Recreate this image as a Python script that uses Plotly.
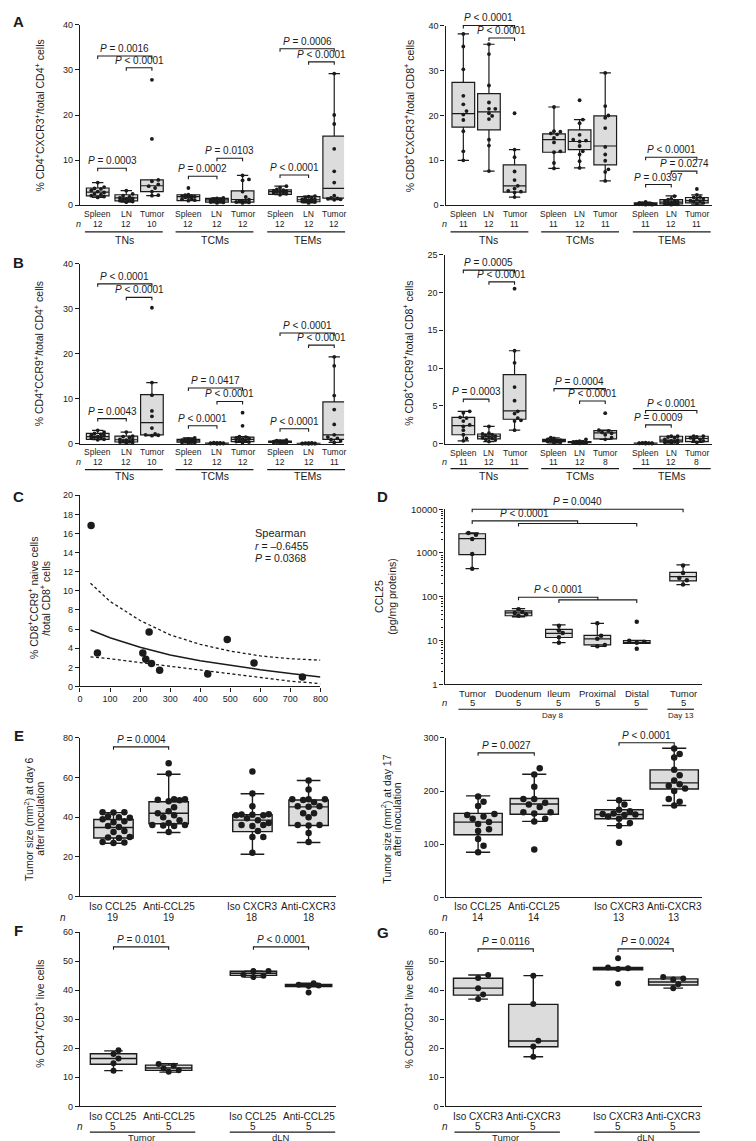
import math
import plotly.graph_objects as go

# ============================ DATA ============================
SITES = ["Spleen", "LN", "Tumor"]
SUBSETS = ["TNs", "TCMs", "TEMs"]

# ---- A left: % CD4+CXCR3+/total CD4+ ----
A4_N = [12, 12, 10, 12, 12, 12, 12, 12, 12]
A4_PTS = [
    [5.0, 4.0, 3.7, 3.6, 3.3, 3.0, 2.8, 2.5, 2.3, 2.1, 1.9, 1.7],
    [3.2, 2.5, 2.1, 1.8, 1.6, 1.5, 1.4, 1.3, 1.1, 1.0, 0.8, 0.65],
    [27.8, 14.7, 5.6, 5.3, 4.6, 4.2, 3.8, 3.0, 2.2, 2.1],
    [3.8, 2.3, 2.2, 2.0, 2.0, 1.9, 1.8, 1.7, 1.5, 1.3, 1.1, 1.0],
    [1.6, 1.5, 1.4, 1.3, 1.2, 1.1, 1.0, 0.9, 0.8, 0.7, 0.6, 0.5],
    [6.6, 5.7, 5.5, 3.0, 1.8, 1.2, 1.0, 0.9, 0.8, 0.7, 0.6, 0.5],
    [4.2, 3.9, 3.5, 3.3, 3.2, 3.1, 3.0, 2.9, 2.8, 2.7, 2.5, 2.3],
    [2.0, 1.9, 1.7, 1.5, 1.3, 1.2, 1.1, 1.0, 0.9, 0.8, 0.7, 0.5],
    [29.2, 20.0, 18.0, 12.5, 7.5, 5.0, 2.1, 1.6, 1.5, 1.4, 1.3, 1.2],
]
A4_BOX = [  # q1, median, q3, lower whisker, upper whisker
    [2.05, 2.9, 3.8, 1.7, 5.0], [0.95, 1.6, 2.3, 0.65, 3.2], [3.0, 4.3, 5.6, 2.1, 5.6],
    [1.0, 1.9, 2.3, 1.0, 2.3], [0.65, 1.15, 1.5, 0.5, 1.6], [0.65, 1.25, 3.15, 0.5, 6.6],
    [2.4, 3.0, 3.4, 2.3, 4.2], [0.75, 1.2, 1.9, 0.5, 2.0], [1.55, 3.7, 15.3, 1.2, 29.2],
]
A4_P = [(0, 1, 8.2, "= 0.0003"), (0, 2, 33.1, "= 0.0016"), (1, 2, 30.5, "< 0.0001"),
        (3, 4, 6.4, "= 0.0002"), (4, 5, 10.4, "= 0.0103"),
        (6, 7, 6.7, "< 0.0001"), (6, 8, 34.7, "= 0.0006"), (7, 8, 31.8, "< 0.0001")]

# ---- A right: % CD8+CXCR3+/total CD8+ ----
A8_N = [11, 12, 11, 11, 12, 11, 11, 12, 11]
A8_PTS = [
    [38.2, 35.4, 30.3, 24.4, 22.5, 21.0, 20.2, 19.0, 16.5, 12.0, 10.0],
    [35.9, 33.7, 26.7, 22.9, 21.5, 21.5, 20.5, 19.9, 19.2, 14.6, 13.3, 7.6],
    [20.5, 12.4, 10.7, 7.5, 5.6, 4.3, 3.7, 3.2, 3.0, 2.8, 1.8],
    [21.9, 16.5, 16.4, 16.0, 15.8, 15.0, 14.0, 12.0, 11.8, 9.4, 8.2],
    [23.4, 19.1, 18.3, 15.7, 14.6, 14.4, 14.2, 13.2, 12.0, 11.3, 9.8, 8.3],
    [29.5, 22.1, 20.0, 19.5, 17.2, 13.0, 11.3, 9.9, 8.0, 7.4, 5.4],
    [0.7, 0.5, 0.4, 0.3, 0.3, 0.3, 0.2, 0.2, 0.2, 0.1, 0.1],
    [2.0, 1.4, 1.2, 1.0, 0.9, 0.8, 0.6, 0.5, 0.4, 0.3, 0.2, 0.1],
    [3.6, 2.3, 1.8, 1.7, 1.4, 1.2, 1.0, 0.9, 0.8, 0.5, 0.3],
]
A8_BOX = [
    [17.4, 20.4, 27.4, 10.0, 38.2], [16.8, 20.8, 24.9, 7.6, 35.9], [2.9, 4.3, 9.0, 1.8, 12.4],
    [11.8, 14.6, 15.9, 8.2, 21.9], [12.4, 14.2, 16.8, 8.3, 19.1], [9.0, 13.2, 19.9, 5.4, 29.5],
    [0.15, 0.3, 0.5, 0.1, 0.7], [0.3, 0.65, 1.25, 0.1, 2.05], [0.5, 1.0, 1.7, 0.2, 2.3],
]
A8_P = [(0, 2, 40.1, "< 0.0001"), (1, 2, 37.3, "< 0.0001"),
        (6, 7, 4.6, "= 0.0397"), (6, 8, 10.7, "< 0.0001"), (7, 8, 7.6, "= 0.0274")]

# ---- B left: % CD4+CCR9+/total CD4+ ----
B4_N = [12, 12, 10, 12, 12, 12, 12, 12, 11]
B4_PTS = [
    [3.0, 2.6, 2.3, 2.1, 1.9, 1.8, 1.6, 1.5, 1.4, 1.3, 1.0, 0.9],
    [2.6, 1.7, 1.6, 1.4, 1.0, 0.9, 0.8, 0.6, 0.5, 0.4, 0.3, 0.2],
    [30.2, 13.6, 10.8, 7.3, 6.1, 3.5, 2.2, 2.0, 1.9, 1.8],
    [1.3, 1.1, 1.0, 0.9, 0.8, 0.7, 0.6, 0.5, 0.4, 0.3, 0.3, 0.2],
    [0.25, 0.2, 0.2, 0.15, 0.15, 0.1, 0.1, 0.1, 0.05, 0.05, 0.05, 0.02],
    [6.9, 4.0, 1.6, 1.5, 1.3, 1.2, 1.0, 0.9, 0.7, 0.5, 0.4, 0.3],
    [0.8, 0.7, 0.6, 0.55, 0.5, 0.45, 0.4, 0.4, 0.35, 0.3, 0.25, 0.2],
    [0.2, 0.15, 0.15, 0.1, 0.1, 0.1, 0.08, 0.05, 0.05, 0.04, 0.03, 0.02],
    [19.3, 17.3, 10.7, 7.6, 4.3, 2.0, 1.5, 1.2, 0.9, 0.6, 0.3],
]
B4_BOX = [
    [1.0, 1.6, 2.3, 0.9, 3.0], [0.4, 0.9, 1.7, 0.2, 2.6], [2.0, 4.7, 10.9, 1.8, 13.6],
    [0.35, 0.65, 1.0, 0.2, 1.3], [0.05, 0.1, 0.17, 0.02, 0.25], [0.5, 1.0, 1.5, 0.3, 1.6],
    [0.33, 0.45, 0.6, 0.2, 0.8], [0.04, 0.08, 0.12, 0.02, 0.2], [1.0, 2.0, 9.3, 0.3, 19.3],
]
B4_P = [(0, 1, 5.6, "= 0.0043"), (0, 2, 35.5, "< 0.0001"), (1, 2, 32.5, "< 0.0001"),
        (3, 4, 4.0, "< 0.0001"), (3, 5, 12.4, "= 0.0417"), (4, 5, 9.4, "< 0.0001"),
        (6, 7, 3.35, "< 0.0001"), (6, 8, 24.6, "< 0.0001"), (7, 8, 21.9, "< 0.0001")]

# ---- B right: % CD8+CCR9+/total CD8+ ----
B8_N = [11, 12, 11, 11, 12, 8, 11, 12, 8]
B8_PTS = [
    [4.3, 4.1, 3.5, 3.4, 3.0, 2.5, 2.3, 1.8, 1.2, 0.7, 0.4],
    [2.3, 1.4, 1.3, 1.2, 1.1, 1.0, 0.9, 0.8, 0.7, 0.6, 0.5, 0.3],
    [20.5, 12.3, 10.7, 7.5, 5.7, 4.3, 4.0, 3.4, 3.1, 3.0, 1.8],
    [0.8, 0.7, 0.6, 0.5, 0.5, 0.4, 0.4, 0.3, 0.3, 0.2, 0.1],
    [0.6, 0.35, 0.3, 0.3, 0.25, 0.2, 0.2, 0.15, 0.15, 0.1, 0.1, 0.05],
    [4.05, 1.8, 1.7, 1.5, 1.4, 1.2, 0.8, 0.6],
    [0.15, 0.12, 0.1, 0.1, 0.08, 0.07, 0.06, 0.05, 0.05, 0.04, 0.03],
    [1.0, 1.0, 0.9, 0.8, 0.6, 0.5, 0.4, 0.3, 0.3, 0.2, 0.2, 0.1],
    [1.0, 1.0, 0.9, 0.8, 0.6, 0.5, 0.4, 0.2],
]
B8_BOX = [
    [1.2, 2.4, 3.5, 0.4, 4.3], [0.65, 1.0, 1.3, 0.3, 2.3], [3.25, 4.35, 9.15, 1.8, 12.3],
    [0.3, 0.4, 0.6, 0.1, 0.8], [0.15, 0.2, 0.3, 0.05, 0.35], [0.65, 1.45, 1.75, 0.6, 1.8],
    [0.05, 0.07, 0.1, 0.03, 0.15], [0.25, 0.5, 1.0, 0.1, 1.0], [0.3, 0.7, 1.0, 0.2, 1.0],
]
B8_P = [(0, 1, 5.9, "= 0.0003"), (0, 2, 22.95, "= 0.0005"), (1, 2, 21.4, "< 0.0001"),
        (3, 5, 7.3, "= 0.0004"), (4, 5, 5.65, "< 0.0001"),
        (6, 7, 2.5, "= 0.0009"), (6, 8, 4.4, "< 0.0001")]

# ---- C: correlation ----
C_X = [37, 58, 209, 219, 230, 238, 265, 425, 490, 579, 740]
C_Y = [16.85, 3.5, 3.5, 2.85, 5.7, 2.4, 1.7, 1.3, 4.9, 2.45, 1.0]
C_FIT_X = [35, 100, 200, 300, 400, 500, 600, 700, 800]
C_FIT = [5.9, 5.1, 4.1, 3.3, 2.7, 2.2, 1.75, 1.35, 1.0]
C_FIT_HI = [10.8, 8.9, 6.9, 5.4, 4.4, 3.7, 3.2, 2.9, 2.75]
C_FIT_LO = [3.1, 2.9, 2.5, 2.1, 1.7, 1.3, 0.9, 0.55, 0.3]

# ---- D: CCL25 (log) ----
D_CATS = ["Tumor", "Duodenum", "Ileum", "Proximal", "Distal", "Tumor"]
D_N = [5, 5, 5, 5, 5, 5]
D_PTS = [[2850, 2600, 2100, 950, 440], [52, 45, 43, 40, 37], [22, 17, 15, 12, 9],
         [25, 13, 11, 8, 7.5], [27, 10, 9.5, 9, 6.5], [520, 350, 270, 240, 190]]
D_BOX = [[920, 2130, 2750, 440, 2900], [37, 43, 48, 35, 54], [11.8, 14.6, 18, 9, 23],
         [8.0, 11, 13.2, 7.4, 24.7], [8.6, 9.0, 10.0, 8.6, 10.2], [230, 290, 360, 190, 535]]

# ---- E: tumor size ----
E_CATS = ["Iso CCL25", "Anti-CCL25", "Iso CXCR3", "Anti-CXCR3"]
E6_N = [19, 19, 18, 18]
E6_PTS = [
    [42.5, 42.5, 42.3, 40.5, 40, 39.7, 39, 38, 37.5, 35.5, 35, 33, 32.5, 30, 29.7, 29.5, 27.5, 27.2, 27],
    [67.2, 62, 49, 49, 48.8, 48.5, 48, 45, 43, 42, 41, 40, 38.5, 37, 36, 36, 35.8, 35.5, 32.5],
    [63, 52, 45.5, 41.5, 41.3, 41.2, 41, 41, 39.5, 38.5, 37, 36, 36, 35.5, 33, 30, 30, 22],
    [58.5, 54, 49, 49, 49, 48.7, 47.5, 45.5, 45.5, 45.3, 42, 42, 40, 36, 36, 35.8, 32, 27.5],
]
E6_BOX = [[29.5, 34.8, 38.8, 26.8, 42.3], [36.7, 42, 47.8, 32.3, 61.7],
          [32.7, 38.5, 41.3, 21.3, 51.8], [35.8, 45.2, 48.7, 27.2, 58.5]]
E6_P = [(0, 1, 75.5, "= 0.0004")]
E17_N = [14, 14, 13, 13]
E17_PTS = [
    [190, 180, 172, 157, 155, 152, 148, 142, 138, 128, 125, 110, 97, 85],
    [243, 231, 208, 185, 185, 178, 175, 170, 160, 160, 158, 148, 143, 90],
    [183, 175, 165, 162, 158, 157, 156, 155, 152, 148, 140, 135, 103],
    [280, 270, 263, 240, 230, 220, 213, 210, 205, 200, 185, 180, 173],
]
E17_BOX = [[118, 141.6, 158, 85, 191], [156.5, 175.8, 186, 143, 231.7],
           [148, 156, 165, 135, 182.6], [204, 215.5, 240, 173, 280.7]]
E17_P = [(0, 1, 272, "= 0.0027"), (2, 3, 291, "< 0.0001")]

# ---- F / G ----
F_CATS = ["Iso CCL25", "Anti-CCL25", "Iso CCL25", "Anti-CCL25"]
G_CATS = ["Iso CXCR3", "Anti-CXCR3", "Iso CXCR3", "Anti-CXCR3"]
FG_GROUPS = ["Tumor", "dLN"]
FG_N = [5, 5, 5, 5]
F_PTS = [[19.3, 18.0, 16.5, 14.8, 12.3], [14.6, 14.0, 13.0, 12.4, 11.9],
         [46.6, 46.6, 45.3, 45.0, 44.5], [42.4, 41.9, 41.6, 41.4, 39.2]]
F_BOX = [[14.5, 16.5, 18.1, 12.3, 19.1], [12.4, 13.2, 14.2, 11.8, 14.7],
         [45.1, 45.8, 46.5, 44.5, 46.6], [41.25, 41.6, 42.0, 41.2, 42.4]]
F_P = [(0, 1, 54.9, "= 0.0101"), (2, 3, 54.9, "< 0.0001")]
G_PTS = [[45.2, 44.2, 40.7, 38.5, 37.0], [45.0, 35.2, 22.6, 20.6, 17.1],
         [51.0, 47.8, 47.5, 47.3, 42.3], [44.5, 44.0, 43.7, 42.0, 40.7]]
G_BOX = [[38.3, 40.7, 44.1, 36.9, 45.2], [20.5, 22.5, 35.1, 17.1, 45.0],
         [47.0, 47.5, 47.8, 47.0, 47.8], [41.8, 42.8, 43.9, 40.7, 44.5]]
G_P = [(0, 1, 54.2, "= 0.0116"), (2, 3, 54.2, "= 0.0024")]

# ============================ RENDERING ============================
W, H = 756, 1141
FONT = "Liberation Sans, Arial, Helvetica, sans-serif"
INK = "#1b1b1b"
FILL = "#dcdcdc"

fig = go.Figure()
ANN, SHP = [], []
_count = [0]


class Panel:
    def __init__(self, L, R, T, B, y0, y1, log=False, xr=None):
        _count[0] += 1
        k = _count[0]
        self.sx = "" if k == 1 else str(k)
        self.xa, self.ya = "x" + self.sx, "y" + self.sx
        self.L, self.R, self.T, self.B = L, R, T, B
        self.y0, self.y1, self.log = y0, y1, log
        self.xr = xr if xr else (L, R)

    def fy(self, v):
        t = math.log10(v) if self.log else v
        return self.B - (t - self.y0) / (self.y1 - self.y0) * (self.B - self.T)


def axes(p, yticks, yticktext=None, minor=None, xticks=None, tickfs=9):
    xa = dict(domain=[p.L / W, p.R / W], range=list(p.xr), anchor=p.ya, showline=True,
              linecolor=INK, linewidth=1.4, showgrid=False, zeroline=False, fixedrange=True)
    if xticks:
        xa.update(ticks="outside", ticklen=4, tickwidth=1.2, tickcolor=INK, tickvals=xticks,
                  tickfont=dict(size=tickfs, family=FONT, color=INK))
    else:
        xa.update(ticks="", showticklabels=False)
    ya = dict(domain=[1 - p.B / H, 1 - p.T / H], range=[p.y0, p.y1], anchor=p.xa,
              type="log" if p.log else "linear", showline=True, linecolor=INK, linewidth=1.4,
              ticks="outside", ticklen=4, tickwidth=1.2, tickcolor=INK, tickvals=yticks,
              showgrid=False, zeroline=False, fixedrange=True,
              tickfont=dict(size=tickfs, family=FONT, color=INK))
    if yticktext:
        ya["ticktext"] = yticktext
    if minor:
        ya["minor"] = dict(tickvals=minor, ticks="outside", ticklen=2.5, tickwidth=1, tickcolor=INK,
                           showgrid=False)
    fig.update_layout(**{"xaxis" + p.sx: xa, "yaxis" + p.sx: ya})


def txt(x, y, s, size, angle=0, xanchor="center", yanchor="middle"):
    ANN.append(dict(x=x / W, y=1 - y / H, xref="paper", yref="paper", text=s, showarrow=False,
                    font=dict(size=size, family=FONT, color=INK), xanchor=xanchor,
                    yanchor=yanchor, textangle=angle, borderpad=0))


def hline(x0, x1, y, w=1.2):
    SHP.append(dict(type="line", xref="paper", yref="paper", x0=x0 / W, x1=x1 / W,
                    y0=1 - y / H, y1=1 - y / H, line=dict(color=INK, width=w)))


def path(pts, w=1.1):
    d = "M " + " L ".join(f"{x / W:.5f},{1 - y / H:.5f}" for x, y in pts)
    SHP.append(dict(type="path", xref="paper", yref="paper", path=d,
                    line=dict(color=INK, width=w)))


def swarm(p, values, msize, maxhalf):
    n = len(values)
    offs = [0.0] * n
    placed = []
    step = msize * 0.85
    order = sorted(range(n), key=lambda i: values[i])
    for i in order:
        py = p.fy(values[i])
        cands = [0.0]
        m = 1
        while m * step <= maxhalf:
            cands += [m * step, -m * step]
            m += 1
        best, bestd = 0.0, -1
        for c in cands:
            d = min([math.hypot(c - ox, py - oy) for ox, oy in placed] or [1e9])
            if d >= msize * 1.0:
                best = c
                break
            if d > bestd:
                bestd, best = d, c
        offs[i] = best
        placed.append((best, py))
    return offs


def boxes(p, centers, pts, stats, width, msize, lw=1.2, whisk=0.5):
    for cx, vals, st in zip(centers, pts, stats):
        q1, med, q3, lo, hi = st
        fig.add_trace(go.Box(x=[cx], q1=[q1], median=[med], q3=[q3], lowerfence=[lo],
                             upperfence=[hi], orientation="v", width=width, whiskerwidth=whisk,
                             fillcolor=FILL, line=dict(color=INK, width=lw), xaxis=p.xa,
                             yaxis=p.ya, showlegend=False, hoverinfo="skip", boxpoints=False))
        offs = swarm(p, vals, msize, width * 0.42)
        fig.add_trace(go.Scatter(x=[cx + o for o in offs], y=vals, mode="markers",
                                 marker=dict(color=INK, size=msize, line=dict(width=0)),
                                 xaxis=p.xa, yaxis=p.ya, cliponaxis=False, showlegend=False,
                                 hoverinfo="skip"))


def brackets(p, centers, comps, fs=10, drop=3):
    for i, j, lev, s in comps:
        xa, xb = centers[i], centers[j]
        y = p.fy(lev)
        path([(xa, y + drop), (xa, y), (xb, y), (xb, y + drop)])
        txt((xa + xb) / 2, y - 1, f"<i>P</i> {s}", fs, yanchor="bottom")


def ylabel(x, y, s, size=10.5):
    txt(x, y, s, size, angle=-90)


def letter(x, y, s):
    txt(x, y, f"<b>{s}</b>", 15)


SUP = "<sup>+</sup>"


def subset_panel(p, bases, offsets, pts, stats, ns, comps, rows, nx, line_ext):
    centers = [b + o for b in bases for o in offsets]
    boxes(p, centers, pts, stats, 23, 3.8, lw=1.2, whisk=0.5)
    brackets(p, centers, comps, fs=10)
    cat_y, n_y, line_y, grp_y = rows
    for k, cx in enumerate(centers):
        txt(cx, cat_y, SITES[k % 3], 8.5)
        txt(cx, n_y, str(ns[k]), 8.5)
    txt(nx, n_y, "<i>n</i>", 9)
    for g, b in enumerate(bases):
        hline(b + offsets[0] - line_ext[0], b + offsets[-1] + line_ext[1], line_y)
        txt((b * 2 + offsets[0] + offsets[-1]) / 2, grp_y, SUBSETS[g], 10.5)


pA1 = Panel(70, 338, 11, 193, 0, 40)
axes(pA1, [0, 10, 20, 30, 40])
subset_panel(pA1, [88, 180, 273], [0, 29, 55], A4_PTS, A4_BOX, A4_N, A4_P,
             (202, 212, 220, 228), 68, (13, 11))
ylabel(28, 103, f"% CD4{SUP}CXCR3{SUP}/total CD4{SUP} cells")
letter(8, 8, "A")

pA2 = Panel(441, 711, 12, 193, 0, 40)
axes(pA2, [0, 10, 20, 30, 40])
subset_panel(pA2, [459, 551, 644], [0, 26, 52], A8_PTS, A8_BOX, A8_N, A8_P,
             (202, 212, 220, 228), 440, (13, 14))
ylabel(403, 103, f"% CD8{SUP}CXCR3{SUP}/total CD8{SUP} cells")

pB1 = Panel(70, 338, 252, 434, 0, 40)
axes(pB1, [0, 10, 20, 30, 40])
subset_panel(pB1, [88, 180, 273], [0, 29, 55], B4_PTS, B4_BOX, B4_N, B4_P,
             (442, 452, 460, 467), 68, (13, 11))
ylabel(28, 343, f"% CD4{SUP}CCR9{SUP}/total CD4{SUP} cells")
letter(8, 251, "B")

pB2 = Panel(440, 711, 243, 434, 0, 25)
axes(pB2, [0, 5, 10, 15, 20, 25])
subset_panel(pB2, [459, 551, 644], [0, 26, 52], B8_PTS, B8_BOX, B8_N, B8_P,
             (443, 452, 459, 467), 440, (13, 14))
ylabel(403, 343, f"% CD8{SUP}CCR9{SUP}/total CD8{SUP} cells")

# ---------- C ----------
pC = Panel(70, 314, 486, 679, 0, 20, xr=(0, 800))
axes(pC, list(range(0, 21, 2)), xticks=list(range(0, 801, 100)))
fig.add_trace(go.Scatter(x=C_FIT_X, y=C_FIT, mode="lines", line=dict(color=INK, width=1.5),
                         xaxis=pC.xa, yaxis=pC.ya, showlegend=False, hoverinfo="skip"))
for arr in (C_FIT_HI, C_FIT_LO):
    fig.add_trace(go.Scatter(x=C_FIT_X, y=arr, mode="lines",
                             line=dict(color=INK, width=1.3, dash="3px,2.5px"),
                             xaxis=pC.xa, yaxis=pC.ya, showlegend=False, hoverinfo="skip"))
fig.add_trace(go.Scatter(x=C_X, y=C_Y, mode="markers", marker=dict(color=INK, size=7.5),
                         xaxis=pC.xa, yaxis=pC.ya, cliponaxis=False, showlegend=False,
                         hoverinfo="skip"))
txt(247, 524, "Spearman", 11, xanchor="left")
txt(247, 537, "<i>r</i> = \u20130.6455", 10.5, xanchor="left")
txt(247, 549, "<i>P</i> = 0.0368", 10.5, xanchor="left")
ylabel(22, 590, f"% CD8{SUP}CCR9{SUP} naive cells")
ylabel(34, 590, f"/total CD8{SUP} cells")
letter(8, 487, "C")

# ---------- D ----------
pD = Panel(440, 701, 500, 677, 0, 4, log=True)
minor_ticks = [k * 10 ** d for d in range(4) for k in range(2, 10)]
axes(pD, [1, 10, 100, 1000, 10000], ["1", "10", "100", "1000", "10000"], minor=minor_ticks,
     tickfs=9.5)
D_C = [468, 515, 556, 595, 635, 682]
boxes(pD, D_C, D_PTS, D_BOX, 27, 4.5, lw=1.2, whisk=0.5)
yt = pD.fy(10000)
path([(D_C[0], yt + 3), (D_C[0], yt), (D_C[5], yt), (D_C[5], yt + 3)])
txt((D_C[0] + D_C[5]) / 2, yt - 1, "<i>P</i> = 0.0040", 10, yanchor="bottom")
y_up, y_lo = pD.fy(5400), pD.fy(4700)
mid = (D_C[1] + D_C[4]) / 2
path([(D_C[1], y_lo + 3), (D_C[1], y_lo), (D_C[4], y_lo), (D_C[4], y_lo + 3)])
path([(D_C[0], y_up + 3), (D_C[0], y_up), (mid, y_up), (mid, y_lo)])
txt((D_C[0] + mid) / 2, y_up - 1, "<i>P</i> < 0.0001", 10, yanchor="bottom")
y_up, y_lo = pD.fy(98), pD.fy(85)
mid = (D_C[2] + D_C[4]) / 2
path([(D_C[2], y_lo + 3), (D_C[2], y_lo), (D_C[4], y_lo), (D_C[4], y_lo + 3)])
path([(D_C[1], y_up + 3), (D_C[1], y_up), (mid, y_up), (mid, y_lo)])
txt((D_C[1] + mid) / 2, y_up - 1, "<i>P</i> < 0.0001", 10, yanchor="bottom")
for k, cx in enumerate(D_C):
    txt(cx, 686, D_CATS[k], 9.5)
    txt(cx, 695, str(D_N[k]), 9.5)
txt(440, 695, "<i>n</i>", 9.5)
hline(454, 646, 702)
txt(550, 708, "Day 8", 8)
hline(666, 693, 702)
txt(680, 708, "Day 13", 8)
ylabel(374, 588, "CCL25")
ylabel(387, 588, "(pg/mg proteins)")
letter(377, 487, "D")

# ---------- E ----------
pE1 = Panel(70, 330, 731, 891, 0, 80)
axes(pE1, [0, 20, 40, 60, 80])
E1_C = [104, 160, 245, 302]
boxes(pE1, E1_C, E6_PTS, E6_BOX, 40, 6.5, lw=1.4, whisk=0.6)
brackets(pE1, E1_C, E6_P, fs=10)
for k, cx in enumerate(E1_C):
    txt(cx, 901, E_CATS[k], 10)
    txt(cx, 912, str(E6_N[k]), 10)
txt(53, 912, "<i>n</i>", 10)
ylabel(17, 813, "Tumor size (mm<sup>2</sup>) at day 6")
ylabel(30, 813, "after inoculation")
letter(8, 729, "E")

pE2 = Panel(441, 701, 731, 892, 0, 300)
axes(pE2, [0, 100, 200, 300])
E2_C = [474, 531, 617, 673]
boxes(pE2, E2_C, E17_PTS, E17_BOX, 49, 6.5, lw=1.4, whisk=0.5)
brackets(pE2, E2_C, E17_P, fs=10)
for k, cx in enumerate(E2_C):
    txt(cx, 901, E_CATS[k], 10)
    txt(cx, 912, str(E17_N[k]), 10)
txt(440, 912, "<i>n</i>", 10)
ylabel(380, 813, "Tumor size (mm<sup>2</sup>) at day 17")
ylabel(392, 813, "after inoculation")


# ---------- F / G ----------
def fg_panel(p, centers, cats, pts, stats, comps, nx, width, whisk, ylab, ylx):
    boxes(p, centers, pts, stats, width, 6, lw=1.4, whisk=whisk)
    brackets(p, centers, comps, fs=10)
    for k, cx in enumerate(centers):
        txt(cx, 1113, cats[k], 10)
        txt(cx, 1123, str(FG_N[k]), 10)
    txt(nx, 1123, "<i>n</i>", 10)
    for g in range(2):
        a, b = centers[2 * g], centers[2 * g + 1]
        hline(a - 24, b + 27, 1129)
        txt((a + b) / 2, 1134.5, FG_GROUPS[g], 9.5)
    ylabel(ylx, 1010, ylab)


pF = Panel(70, 330, 927, 1103, 0, 60)
axes(pF, [0, 10, 20, 30, 40, 50, 60])
fg_panel(pF, [104, 160, 246, 302], F_CATS, F_PTS, F_BOX, F_P, 70, 47, 0.4,
         f"% CD4{SUP}/CD3{SUP} live cells", 28)
letter(8, 925, "F")

pG = Panel(441, 701, 927, 1103, 0, 60)
axes(pG, [0, 10, 20, 30, 40, 50, 60])
fg_panel(pG, [474, 530, 616, 672], G_CATS, G_PTS, G_BOX, G_P, 440, 50, 0.4,
         f"% CD8{SUP}/CD3{SUP} live cells", 403)
letter(377, 927, "G")

fig.update_layout(width=W, height=H, margin=dict(l=0, r=0, t=0, b=0),
                  paper_bgcolor="white", plot_bgcolor="white", boxmode="overlay",
                  annotations=ANN, shapes=SHP, showlegend=False,
                  font=dict(family=FONT, color=INK))
fig.write_html("out.html")
